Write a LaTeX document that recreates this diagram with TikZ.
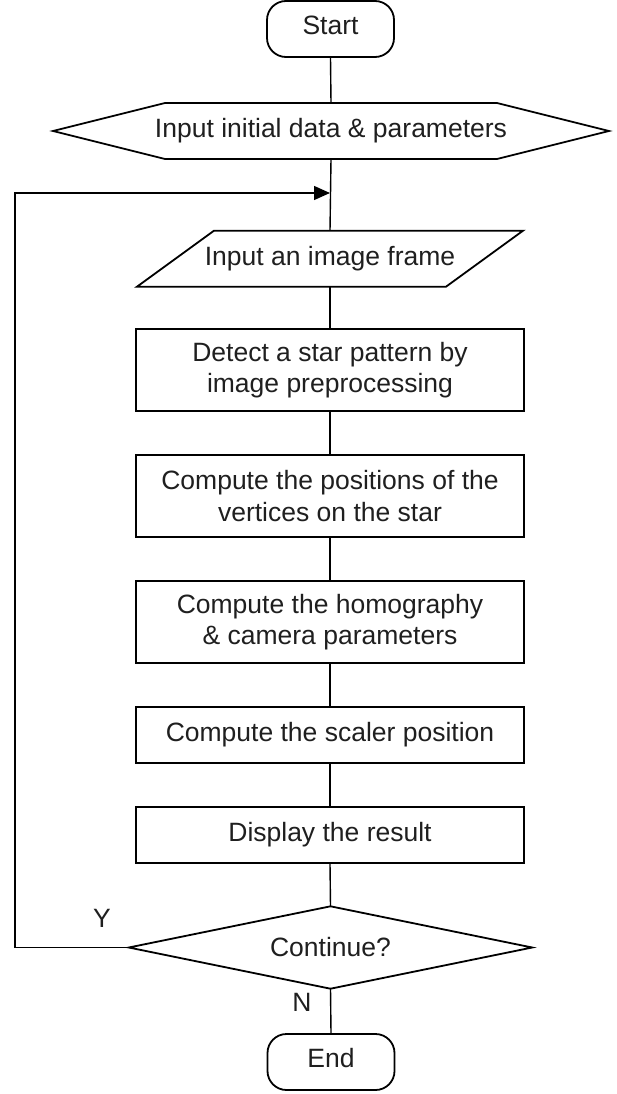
\documentclass[tikz,border=0pt]{standalone}
\usepackage{fontspec}
\setmainfont{Liberation Sans}
\usetikzlibrary{arrows.meta}
\definecolor{ink}{rgb}{0.12,0.12,0.12}
\begin{document}
\begin{tikzpicture}[x=1pt,y=-1pt,
  every node/.style={font=\fontsize{26.5}{31.7}\selectfont, text=ink, inner sep=0pt},
  outline/.style={line width=1.8pt, line join=miter},
  terminal/.style={draw, outline, rounded corners=19pt, minimum width=127pt, minimum height=56pt, text depth=8pt},
  procbox/.style={draw, outline, minimum width=388pt, align=center},
  holder/.style={minimum height=56pt},
  link/.style={line width=1.4pt},
  backlink/.style={line width=1.4pt, -{Triangle[length=16pt,width=14pt]}}]
\useasboundingbox (0,0) rectangle (616,1094);

% terminals, preparation, input and process steps
\node[terminal] (start) at (330.5,29) {Start};
\node[holder] (init) at (331,131) {Input initial data \& parameters};
\draw[outline] (init.center) ++(-166,-28) -- ++(332,0) -- ++(112,28)
  -- ++(-112,28) -- ++(-332,0) -- ++(-112,-28) -- cycle;
\node[holder] (frame) at (330,258.7) {Input an image frame};
\draw[outline] (frame.center) ++(-116,-28) -- ++(309,0) -- ++(-77,56)
  -- ++(-309,0) -- cycle;
\node[procbox, minimum height=82pt] (detect) at (330,370) {Detect a star pattern by\\image preprocessing};
\node[procbox, minimum height=82pt] (vert) at (330,496) {Compute the positions of the\\vertices on the star};
\node[procbox, minimum height=82pt] (homog) at (330,622) {Compute the homography\\\& camera parameters};
\node[procbox, minimum height=56pt] (scaler) at (330,734.7) {Compute the scaler position};
\node[procbox, minimum height=56pt] (disp) at (330,834.7) {Display the result};

% decision: a diamond drawn through the corners of its text holder
\node[minimum width=403pt, minimum height=82pt] (cont) at (330.5,947.5) {Continue?};
\draw[outline] (cont.north) -- (cont.east) -- (cont.south) -- (cont.west) -- cycle;

\node[terminal] (stop) at (331,1062) {End};

% branch labels
\node (ylab) at (102,918) {Y};
\node (nlab) at (302,1002) {N};

% connectors
\coordinate (join) at (330,193);
\coordinate (loop) at (15,947.5);
\draw[link] (start.south) -- (init.north);
\draw[link] (init.south) -- (frame.north);
\draw[link] (frame.south) -- (detect.north);
\draw[link] (detect.south) -- (vert.north);
\draw[link] (vert.south) -- (homog.north);
\draw[link] (homog.south) -- (scaler.north);
\draw[link] (scaler.south) -- (disp.north);
\draw[link] (disp.south) -- (cont.north);
\draw[link] (cont.south) -- (stop.north);
\draw[backlink] (cont.west) -- (loop) |- (join);
\end{tikzpicture}
\end{document}
